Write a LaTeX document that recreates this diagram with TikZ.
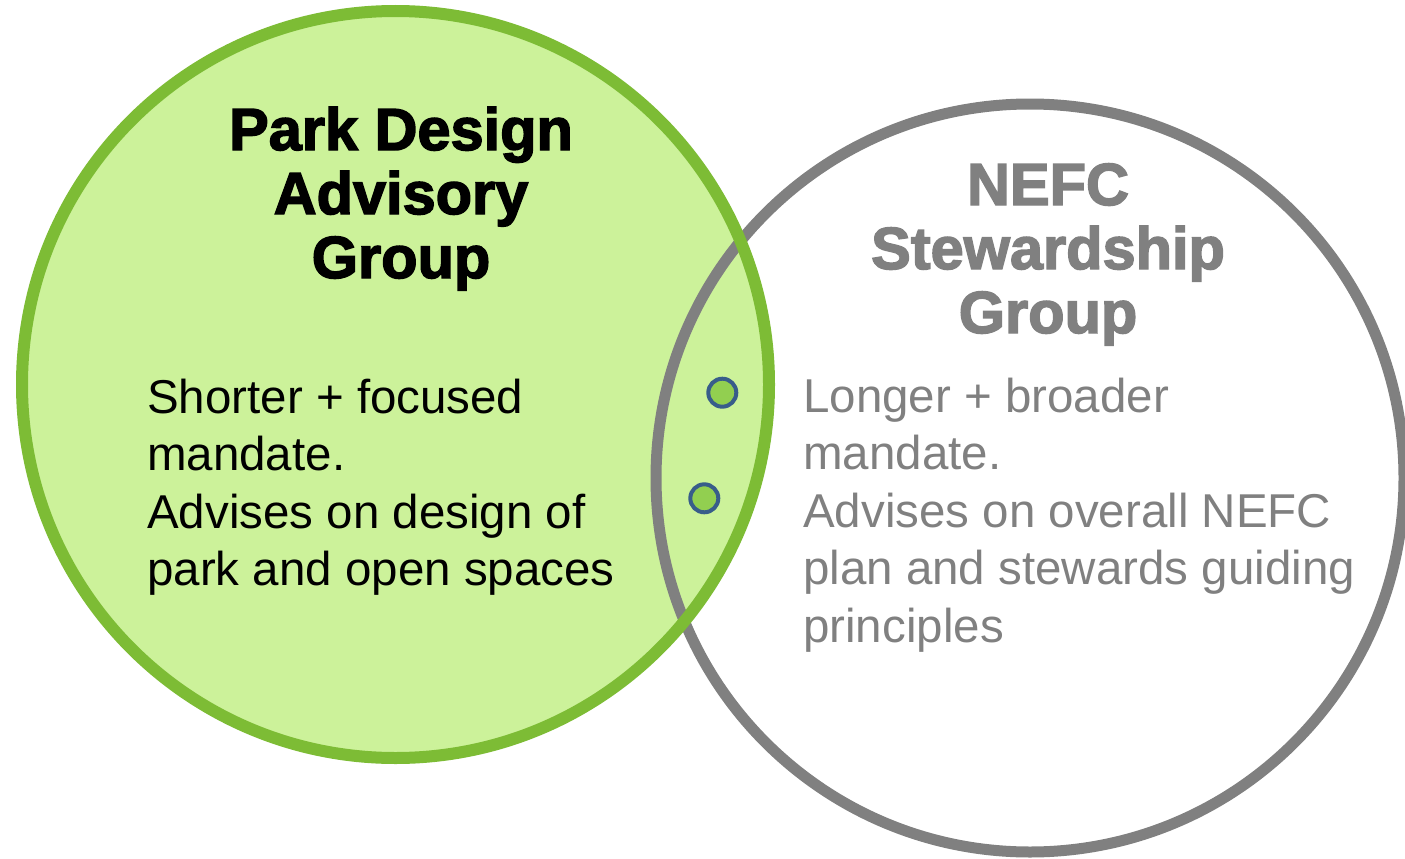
\documentclass[tikz,border=0pt]{standalone}
\usepackage{fontspec}
\setmainfont{Liberation Sans}
\newfontfamily\heavyfont{Liberation Sans Bold}[FakeBold=2.5]
\definecolor{pdfillc}{HTML}{CCF29A}
\definecolor{pdlinec}{HTML}{7DBC35}
\definecolor{grayc}{HTML}{808080}
\definecolor{dotfillc}{HTML}{92CF50}
\definecolor{dotlinec}{HTML}{385D8A}
\newcommand\ctrline[1]{\hbox to 0pt{\hss#1\hss}}
\tikzset{
  titletext/.style={inner sep=0pt, anchor=base, font=\heavyfont\fontsize{59.5}{64}\selectfont},
  bodytext/.style={inner sep=0pt, anchor=base west, font=\fontsize{47.5}{57.5}\selectfont},
  dotstyle/.style={circle, inner sep=0pt, minimum size=28pt, draw=dotlinec, fill=dotfillc, line width=4pt}
}
\begin{document}
\begin{tikzpicture}[x=1pt,y=-1pt]
\useasboundingbox (0,0) rectangle (1405,859);
\coordinate (pdc) at (395.5,384.5);
\coordinate (nfc) at (1030,478);
\fill[pdfillc] (pdc) circle[radius=373.5];
\draw[grayc, line width=11pt] (nfc) circle[radius=374];
\draw[pdlinec, line width=12pt] (pdc) circle[radius=373.5];
\node[dotstyle] (d1) at (722.3,392.7) {};
\node[dotstyle] (d2) at (704.3,498.3) {};
\node[titletext, text=black] (pdt) at (401,150) {\vtop{\ctrline{Park Design}\ctrline{Advisory}\ctrline{Group}}};
\node[titletext, text=grayc, font=\heavyfont\fontsize{59.5}{64}\selectfont] (nft) at (1048,205) {\vtop{\ctrline{NEFC}\ctrline{Stewardship}\ctrline{Group}}};
\node[bodytext, text=black] (pdb) at (147,413) {\vtop{\hbox{Shorter + focused}\hbox{mandate.}\hbox{Advises on design of}\hbox{park and open spaces}}};
\node[bodytext, text=grayc] (nfb) at (803,412) {\vtop{\hbox{Longer + broader}\hbox{mandate.}\hbox{Advises on overall NEFC}\hbox{plan and stewards guiding}\hbox{principles}}};
\end{tikzpicture}
\end{document}
